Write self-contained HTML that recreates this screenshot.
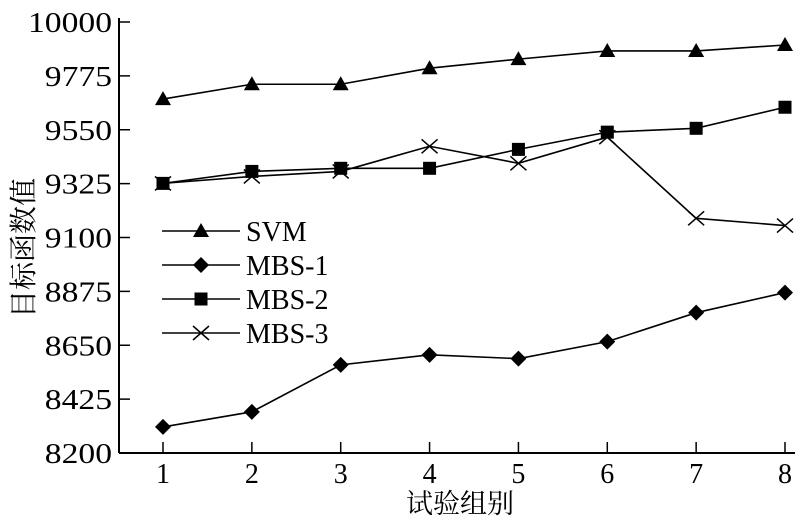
<!DOCTYPE html>
<html><head><meta charset="utf-8"><style>
body{margin:0;background:#fff;}
svg text{font-family:"Liberation Serif","Noto Serif CJK SC",serif;fill:#000;}
</style></head><body>
<svg id="chart" width="800" height="523" viewBox="0 0 800 523">
<g id="axes"></g><g id="series"></g><g id="legend"></g>
</svg>
<script>
const categories=[1,2,3,4,5,6,7,8];
const yTicks=[8200,8425,8650,8875,9100,9325,9550,9775,10000];
const svmValues=[9678,9740,9740,9807,9845,9879,9879,9904];
const mbs1Values=[8309,8372,8568,8610,8594,8665,8786,8870];
const mbs2Values=[9326,9376,9389,9389,9468,9540,9556,9644];
const mbs3Values=[9326,9355,9376,9481,9410,9519,9180,9150];
const NS="http://www.w3.org/2000/svg";
const x0=119,x1=795,y0=453,y1=22;
function xs(c){return 163+(c-1)*(785-163)/7;}
function ys(v){return y0-(v-8200)/(10000-8200)*(y0-y1);}
function mk(tag,attrs,parent){const e=document.createElementNS(NS,tag);for(const k in attrs)e.setAttribute(k,attrs[k]);parent.appendChild(e);return e;}
const axes=document.getElementById('axes');
const yAxis=mk('line',{x1:x0,y1:y1-4,x2:x0,y2:y0,stroke:'#000','stroke-width':2},axes);


const xAxis=mk('line',{x1:x0,y1:y0,x2:x1,y2:y0,stroke:'#000','stroke-width':2},axes);


yTicks.forEach(v=>{
  const t=mk('line',{x1:x0,y1:ys(v),x2:x0+11,y2:ys(v),stroke:'#000','stroke-width':1.5},axes);
  
  
  const l=mk('text',{x:x0-7,y:ys(v)+10,'text-anchor':'end','font-size':29,textLength:String(v).length*16.8,lengthAdjust:'spacingAndGlyphs'},axes);
  l.textContent=v;
  
  
});
categories.forEach(c=>{
  const t=mk('line',{x1:xs(c),y1:y0,x2:xs(c),y2:y0-11,stroke:'#000','stroke-width':1.5},axes);
  
  
  const l=mk('text',{x:xs(c),y:y0+30,'text-anchor':'middle','font-size':28},axes);
  l.textContent=c;
  
  
});
const xt=mk('text',{x:460,y:513,'text-anchor':'middle','font-size':27},axes);
xt.textContent='试验组别';


const yt=mk('text',{x:0,y:0,'text-anchor':'middle','font-size':28,transform:'translate(33,248) rotate(-90)'},axes);
yt.textContent='目标函数值';


function marker(type,x,y,g){
  let e;
  if(type==='tri')e=mk('polygon',{points:`${x},${y-8} ${x-8},${y+6} ${x+8},${y+6}`,fill:'#000'},g);
  else if(type==='dia')e=mk('polygon',{points:`${x},${y-8} ${x+8},${y} ${x},${y+8} ${x-8},${y}`,fill:'#000'},g);
  else if(type==='sq')e=mk('rect',{x:x-6.5,y:y-6.5,width:13,height:13,fill:'#000'},g);
  else e=mk('path',{d:`M${x-8},${y-7}L${x+8},${y+7}M${x-8},${y+7}L${x+8},${y-7}`,stroke:'#000','stroke-width':1.5,fill:'none'},g);
  
  
}
const seriesG=document.getElementById('series');
const series=[['svm',svmValues,'tri','SVM'],['mbs-1',mbs1Values,'dia','MBS-1'],['mbs-2',mbs2Values,'sq','MBS-2'],['mbs-3',mbs3Values,'x','MBS-3']];
series.forEach(([id,vals,m])=>{
  const g=mk('g',{},seriesG);
  
  
  const p=mk('polyline',{points:vals.map((v,i)=>xs(categories[i])+','+ys(v)).join(' '),fill:'none',stroke:'#000','stroke-width':1.6},g);
  
  
  vals.forEach((v,i)=>marker(m,xs(categories[i]),ys(v),g));
});
const lg=document.getElementById('legend');


series.forEach(([id,vals,m,label],i)=>{
  const y=231+i*34;
  const g=mk('g',{},lg);
  
  
  mk('line',{x1:162,y1:y,x2:240,y2:y,stroke:'#000','stroke-width':1.6},g);
  marker(m,201,y,g);
  const t=mk('text',{x:246,y:y+10,'font-size':28},g);
  t.textContent=label;
});
</script>
</body></html>
